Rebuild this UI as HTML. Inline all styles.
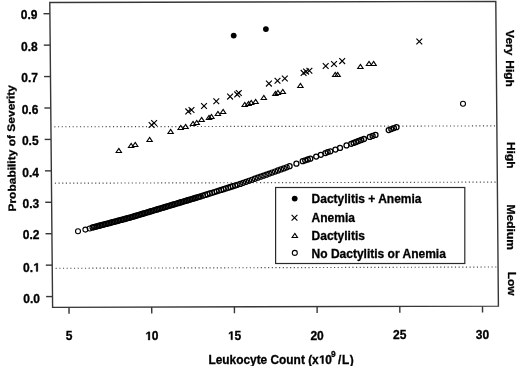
<!DOCTYPE html><html><head><meta charset="utf-8"><style>html,body{margin:0;padding:0;background:#fff;width:520px;height:366px;overflow:hidden}svg{display:block;will-change:transform}text{font-family:"Liberation Sans",sans-serif;font-weight:bold;fill:#000;stroke:#000;stroke-width:0.3px}</style></head><body>
<svg width="520" height="366" viewBox="0 0 520 366">
<rect width="520" height="366" fill="#fff"/>
<line x1="54.34" y1="126.80" x2="496.36" y2="125.90" stroke="#4a4a4a" stroke-width="1.15" stroke-dasharray="1.15 2.513"/>
<line x1="54.86" y1="183.20" x2="496.84" y2="182.10" stroke="#4a4a4a" stroke-width="1.15" stroke-dasharray="1.15 2.513"/>
<line x1="55.64" y1="268.30" x2="497.57" y2="267.00" stroke="#4a4a4a" stroke-width="1.15" stroke-dasharray="1.15 2.513"/>
<polygon points="49.8,2.5 495.8,1.4 498.4,306.1 52.6,307.4" fill="none" stroke="#363636" stroke-width="1.4"/>
<line x1="43.50" y1="13.70" x2="49.90" y2="13.70" stroke="#363636" stroke-width="1.4"/>
<line x1="43.79" y1="45.13" x2="50.19" y2="45.13" stroke="#363636" stroke-width="1.4"/>
<line x1="44.08" y1="76.56" x2="50.48" y2="76.56" stroke="#363636" stroke-width="1.4"/>
<line x1="44.37" y1="107.99" x2="50.77" y2="107.99" stroke="#363636" stroke-width="1.4"/>
<line x1="44.66" y1="139.42" x2="51.06" y2="139.42" stroke="#363636" stroke-width="1.4"/>
<line x1="44.95" y1="170.85" x2="51.35" y2="170.85" stroke="#363636" stroke-width="1.4"/>
<line x1="45.23" y1="202.28" x2="51.63" y2="202.28" stroke="#363636" stroke-width="1.4"/>
<line x1="45.52" y1="233.71" x2="51.92" y2="233.71" stroke="#363636" stroke-width="1.4"/>
<line x1="45.81" y1="265.14" x2="52.21" y2="265.14" stroke="#363636" stroke-width="1.4"/>
<line x1="46.10" y1="296.57" x2="52.50" y2="296.57" stroke="#363636" stroke-width="1.4"/>
<text x="37.50" y="19.10" font-size="12" text-anchor="end">0.9</text>
<text x="37.78" y="50.65" font-size="12" text-anchor="end">0.8</text>
<text x="38.06" y="82.20" font-size="12" text-anchor="end">0.7</text>
<text x="38.34" y="113.75" font-size="12" text-anchor="end">0.6</text>
<text x="38.62" y="145.30" font-size="12" text-anchor="end">0.5</text>
<text x="38.90" y="176.85" font-size="12" text-anchor="end">0.4</text>
<text x="39.18" y="208.40" font-size="12" text-anchor="end">0.3</text>
<text x="39.46" y="238.95" font-size="12" text-anchor="end">0.2</text>
<text x="39.74" y="271.50" font-size="12" text-anchor="end">0. </text>
<text x="40.02" y="303.05" font-size="12" text-anchor="end">0.0</text>
<line x1="69.00" y1="307.35" x2="69.05" y2="313.65" stroke="#363636" stroke-width="1.4"/>
<line x1="151.70" y1="307.11" x2="151.75" y2="313.41" stroke="#363636" stroke-width="1.4"/>
<line x1="234.40" y1="306.87" x2="234.45" y2="313.17" stroke="#363636" stroke-width="1.4"/>
<line x1="317.10" y1="306.63" x2="317.15" y2="312.93" stroke="#363636" stroke-width="1.4"/>
<line x1="399.80" y1="306.39" x2="399.85" y2="312.69" stroke="#363636" stroke-width="1.4"/>
<line x1="482.50" y1="306.15" x2="482.55" y2="312.45" stroke="#363636" stroke-width="1.4"/>
<text x="69.10" y="340.40" font-size="12" text-anchor="middle">5</text>
<text x="151.76" y="340.12" font-size="12" text-anchor="middle"> 0</text>
<text x="234.42" y="339.84" font-size="12" text-anchor="middle"> 5</text>
<text x="317.08" y="339.56" font-size="12" text-anchor="middle">20</text>
<text x="399.74" y="339.28" font-size="12" text-anchor="middle">25</text>
<text x="482.40" y="339.00" font-size="12" text-anchor="middle">30</text>
<text x="208.4" y="363.7" font-size="11.9">Leukocyte Count (x 0</text>
<text x="330.9" y="356.8" font-size="8.4">9</text>
<text x="338.1" y="363.7" font-size="11.9" letter-spacing="0.5">/L)</text>
<text transform="translate(16.0,211.6) rotate(-90.76) scale(1,0.9)" font-size="12">Probability of Severity</text>
<text transform="translate(506.2,30.1) rotate(90) scale(1,0.9)" font-size="12" word-spacing="1.5">Very High</text>
<text transform="translate(507.1,141.9) rotate(90) scale(1,0.9)" font-size="12">High</text>
<text transform="translate(507.3,204.6) rotate(90) scale(1,0.9)" font-size="12">Medium</text>
<text transform="translate(507.8,271.7) rotate(90) scale(1,0.9)" font-size="12">Low</text>
<rect x="275.6" y="187.5" width="189.2" height="76.0" fill="#fff" stroke="#2a2a2a" stroke-width="1.2"/>
<circle cx="294.70" cy="198.60" r="2.9" fill="#000"/>
<path d="M291.60 214.80L297.40 220.60M291.60 220.60L297.40 214.80" stroke="#000" stroke-width="1.15" fill="none"/>
<path d="M294.80 233.40L297.50 237.50L292.10 237.50Z" stroke="#000" stroke-width="1.1" fill="none" stroke-linejoin="miter"/>
<circle cx="294.80" cy="252.90" r="2.5" fill="none" stroke="#000" stroke-width="1.1"/>
<text x="311.6" y="203.0" font-size="12">Dactylitis + Anemia</text>
<text x="311.6" y="221.7" font-size="12">Anemia</text>
<text x="311.6" y="240.0" font-size="12">Dactylitis</text>
<text x="311.6" y="257.7" font-size="12">No Dactylitis or Anemia</text>
<circle cx="92.60" cy="227.51" r="2.55" fill="none" stroke="#000" stroke-width="1.2"/>
<circle cx="94.10" cy="227.11" r="2.55" fill="none" stroke="#000" stroke-width="1.2"/>
<circle cx="95.60" cy="226.71" r="2.55" fill="none" stroke="#000" stroke-width="1.2"/>
<circle cx="97.10" cy="226.31" r="2.55" fill="none" stroke="#000" stroke-width="1.2"/>
<circle cx="98.60" cy="225.92" r="2.55" fill="none" stroke="#000" stroke-width="1.2"/>
<circle cx="100.10" cy="225.52" r="2.55" fill="none" stroke="#000" stroke-width="1.2"/>
<circle cx="101.60" cy="225.12" r="2.55" fill="none" stroke="#000" stroke-width="1.2"/>
<circle cx="103.10" cy="224.73" r="2.55" fill="none" stroke="#000" stroke-width="1.2"/>
<circle cx="104.60" cy="224.33" r="2.55" fill="none" stroke="#000" stroke-width="1.2"/>
<circle cx="106.10" cy="223.93" r="2.55" fill="none" stroke="#000" stroke-width="1.2"/>
<circle cx="107.60" cy="223.54" r="2.55" fill="none" stroke="#000" stroke-width="1.2"/>
<circle cx="109.10" cy="223.14" r="2.55" fill="none" stroke="#000" stroke-width="1.2"/>
<circle cx="110.60" cy="222.74" r="2.55" fill="none" stroke="#000" stroke-width="1.2"/>
<circle cx="112.10" cy="222.34" r="2.55" fill="none" stroke="#000" stroke-width="1.2"/>
<circle cx="113.60" cy="221.95" r="2.55" fill="none" stroke="#000" stroke-width="1.2"/>
<circle cx="115.10" cy="221.55" r="2.55" fill="none" stroke="#000" stroke-width="1.2"/>
<circle cx="116.60" cy="221.15" r="2.55" fill="none" stroke="#000" stroke-width="1.2"/>
<circle cx="118.10" cy="220.75" r="2.55" fill="none" stroke="#000" stroke-width="1.2"/>
<circle cx="119.60" cy="220.36" r="2.55" fill="none" stroke="#000" stroke-width="1.2"/>
<circle cx="121.10" cy="219.96" r="2.55" fill="none" stroke="#000" stroke-width="1.2"/>
<circle cx="122.60" cy="219.56" r="2.55" fill="none" stroke="#000" stroke-width="1.2"/>
<circle cx="124.10" cy="219.16" r="2.55" fill="none" stroke="#000" stroke-width="1.2"/>
<circle cx="125.60" cy="218.77" r="2.55" fill="none" stroke="#000" stroke-width="1.2"/>
<circle cx="127.10" cy="218.37" r="2.55" fill="none" stroke="#000" stroke-width="1.2"/>
<circle cx="128.60" cy="217.97" r="2.55" fill="none" stroke="#000" stroke-width="1.2"/>
<circle cx="130.10" cy="217.57" r="2.55" fill="none" stroke="#000" stroke-width="1.2"/>
<circle cx="131.60" cy="217.12" r="2.55" fill="none" stroke="#000" stroke-width="1.2"/>
<circle cx="133.10" cy="216.67" r="2.55" fill="none" stroke="#000" stroke-width="1.2"/>
<circle cx="134.60" cy="216.22" r="2.55" fill="none" stroke="#000" stroke-width="1.2"/>
<circle cx="136.10" cy="215.77" r="2.55" fill="none" stroke="#000" stroke-width="1.2"/>
<circle cx="137.60" cy="215.32" r="2.55" fill="none" stroke="#000" stroke-width="1.2"/>
<circle cx="139.10" cy="214.87" r="2.55" fill="none" stroke="#000" stroke-width="1.2"/>
<circle cx="140.60" cy="214.42" r="2.55" fill="none" stroke="#000" stroke-width="1.2"/>
<circle cx="142.10" cy="213.97" r="2.55" fill="none" stroke="#000" stroke-width="1.2"/>
<circle cx="143.60" cy="213.52" r="2.55" fill="none" stroke="#000" stroke-width="1.2"/>
<circle cx="145.10" cy="213.07" r="2.55" fill="none" stroke="#000" stroke-width="1.2"/>
<circle cx="146.60" cy="212.62" r="2.55" fill="none" stroke="#000" stroke-width="1.2"/>
<circle cx="148.10" cy="212.17" r="2.55" fill="none" stroke="#000" stroke-width="1.2"/>
<circle cx="149.60" cy="211.72" r="2.55" fill="none" stroke="#000" stroke-width="1.2"/>
<circle cx="151.10" cy="211.27" r="2.55" fill="none" stroke="#000" stroke-width="1.2"/>
<circle cx="152.60" cy="210.82" r="2.55" fill="none" stroke="#000" stroke-width="1.2"/>
<circle cx="154.10" cy="210.37" r="2.55" fill="none" stroke="#000" stroke-width="1.2"/>
<circle cx="155.60" cy="209.92" r="2.55" fill="none" stroke="#000" stroke-width="1.2"/>
<circle cx="157.10" cy="209.47" r="2.55" fill="none" stroke="#000" stroke-width="1.2"/>
<circle cx="158.60" cy="209.02" r="2.55" fill="none" stroke="#000" stroke-width="1.2"/>
<circle cx="160.10" cy="208.57" r="2.55" fill="none" stroke="#000" stroke-width="1.2"/>
<circle cx="161.60" cy="208.12" r="2.55" fill="none" stroke="#000" stroke-width="1.2"/>
<circle cx="163.10" cy="207.67" r="2.55" fill="none" stroke="#000" stroke-width="1.2"/>
<circle cx="164.60" cy="207.22" r="2.55" fill="none" stroke="#000" stroke-width="1.2"/>
<circle cx="166.10" cy="206.77" r="2.55" fill="none" stroke="#000" stroke-width="1.2"/>
<circle cx="167.60" cy="206.32" r="2.55" fill="none" stroke="#000" stroke-width="1.2"/>
<circle cx="169.10" cy="205.87" r="2.55" fill="none" stroke="#000" stroke-width="1.2"/>
<circle cx="170.60" cy="205.42" r="2.55" fill="none" stroke="#000" stroke-width="1.2"/>
<circle cx="172.10" cy="204.97" r="2.55" fill="none" stroke="#000" stroke-width="1.2"/>
<circle cx="173.60" cy="204.52" r="2.55" fill="none" stroke="#000" stroke-width="1.2"/>
<circle cx="175.10" cy="204.07" r="2.55" fill="none" stroke="#000" stroke-width="1.2"/>
<circle cx="176.60" cy="203.62" r="2.55" fill="none" stroke="#000" stroke-width="1.2"/>
<circle cx="178.10" cy="203.17" r="2.55" fill="none" stroke="#000" stroke-width="1.2"/>
<circle cx="179.60" cy="202.72" r="2.55" fill="none" stroke="#000" stroke-width="1.2"/>
<circle cx="181.10" cy="202.27" r="2.55" fill="none" stroke="#000" stroke-width="1.2"/>
<circle cx="182.60" cy="201.82" r="2.55" fill="none" stroke="#000" stroke-width="1.2"/>
<circle cx="184.10" cy="201.37" r="2.55" fill="none" stroke="#000" stroke-width="1.2"/>
<circle cx="185.60" cy="200.92" r="2.55" fill="none" stroke="#000" stroke-width="1.2"/>
<circle cx="187.10" cy="200.47" r="2.55" fill="none" stroke="#000" stroke-width="1.2"/>
<circle cx="188.60" cy="200.02" r="2.55" fill="none" stroke="#000" stroke-width="1.2"/>
<circle cx="190.10" cy="199.57" r="2.55" fill="none" stroke="#000" stroke-width="1.2"/>
<circle cx="191.60" cy="199.12" r="2.55" fill="none" stroke="#000" stroke-width="1.2"/>
<circle cx="193.10" cy="198.67" r="2.55" fill="none" stroke="#000" stroke-width="1.2"/>
<circle cx="194.60" cy="198.22" r="2.55" fill="none" stroke="#000" stroke-width="1.2"/>
<circle cx="196.10" cy="197.77" r="2.55" fill="none" stroke="#000" stroke-width="1.2"/>
<circle cx="197.60" cy="197.32" r="2.55" fill="none" stroke="#000" stroke-width="1.2"/>
<circle cx="199.10" cy="196.87" r="2.55" fill="none" stroke="#000" stroke-width="1.2"/>
<circle cx="200.60" cy="196.41" r="2.55" fill="none" stroke="#000" stroke-width="1.2"/>
<circle cx="202.90" cy="195.69" r="2.55" fill="none" stroke="#000" stroke-width="1.2"/>
<circle cx="205.20" cy="194.96" r="2.55" fill="none" stroke="#000" stroke-width="1.2"/>
<circle cx="207.50" cy="194.24" r="2.55" fill="none" stroke="#000" stroke-width="1.2"/>
<circle cx="209.80" cy="193.51" r="2.55" fill="none" stroke="#000" stroke-width="1.2"/>
<circle cx="212.10" cy="192.79" r="2.55" fill="none" stroke="#000" stroke-width="1.2"/>
<circle cx="214.40" cy="192.06" r="2.55" fill="none" stroke="#000" stroke-width="1.2"/>
<circle cx="216.70" cy="191.34" r="2.55" fill="none" stroke="#000" stroke-width="1.2"/>
<circle cx="219.00" cy="190.61" r="2.55" fill="none" stroke="#000" stroke-width="1.2"/>
<circle cx="221.30" cy="189.89" r="2.55" fill="none" stroke="#000" stroke-width="1.2"/>
<circle cx="223.60" cy="189.17" r="2.55" fill="none" stroke="#000" stroke-width="1.2"/>
<circle cx="225.90" cy="188.44" r="2.55" fill="none" stroke="#000" stroke-width="1.2"/>
<circle cx="228.20" cy="187.72" r="2.55" fill="none" stroke="#000" stroke-width="1.2"/>
<circle cx="230.50" cy="186.99" r="2.55" fill="none" stroke="#000" stroke-width="1.2"/>
<circle cx="232.80" cy="186.27" r="2.55" fill="none" stroke="#000" stroke-width="1.2"/>
<circle cx="235.10" cy="185.54" r="2.55" fill="none" stroke="#000" stroke-width="1.2"/>
<circle cx="237.40" cy="184.82" r="2.55" fill="none" stroke="#000" stroke-width="1.2"/>
<circle cx="240.30" cy="183.89" r="2.55" fill="none" stroke="#000" stroke-width="1.2"/>
<circle cx="243.20" cy="182.86" r="2.55" fill="none" stroke="#000" stroke-width="1.2"/>
<circle cx="246.10" cy="181.83" r="2.55" fill="none" stroke="#000" stroke-width="1.2"/>
<circle cx="249.00" cy="180.80" r="2.55" fill="none" stroke="#000" stroke-width="1.2"/>
<circle cx="251.90" cy="179.78" r="2.55" fill="none" stroke="#000" stroke-width="1.2"/>
<circle cx="254.80" cy="178.75" r="2.55" fill="none" stroke="#000" stroke-width="1.2"/>
<circle cx="257.70" cy="177.72" r="2.55" fill="none" stroke="#000" stroke-width="1.2"/>
<circle cx="260.60" cy="176.69" r="2.55" fill="none" stroke="#000" stroke-width="1.2"/>
<circle cx="263.50" cy="175.66" r="2.55" fill="none" stroke="#000" stroke-width="1.2"/>
<circle cx="266.40" cy="174.63" r="2.55" fill="none" stroke="#000" stroke-width="1.2"/>
<circle cx="269.30" cy="173.60" r="2.55" fill="none" stroke="#000" stroke-width="1.2"/>
<circle cx="272.20" cy="172.57" r="2.55" fill="none" stroke="#000" stroke-width="1.2"/>
<circle cx="275.10" cy="171.54" r="2.55" fill="none" stroke="#000" stroke-width="1.2"/>
<circle cx="278.00" cy="170.51" r="2.55" fill="none" stroke="#000" stroke-width="1.2"/>
<circle cx="280.90" cy="169.46" r="2.55" fill="none" stroke="#000" stroke-width="1.2"/>
<circle cx="283.80" cy="168.38" r="2.55" fill="none" stroke="#000" stroke-width="1.2"/>
<circle cx="286.70" cy="167.29" r="2.55" fill="none" stroke="#000" stroke-width="1.2"/>
<circle cx="78.00" cy="231.30" r="2.5" fill="none" stroke="#000" stroke-width="1.1"/>
<circle cx="85.40" cy="229.60" r="2.5" fill="none" stroke="#000" stroke-width="1.1"/>
<circle cx="89.70" cy="228.50" r="2.5" fill="none" stroke="#000" stroke-width="1.1"/>
<circle cx="289.60" cy="166.20" r="2.5" fill="none" stroke="#000" stroke-width="1.3"/>
<circle cx="296.40" cy="163.70" r="2.5" fill="none" stroke="#000" stroke-width="1.3"/>
<circle cx="302.70" cy="161.20" r="2.5" fill="none" stroke="#000" stroke-width="1.3"/>
<circle cx="305.20" cy="160.30" r="2.5" fill="none" stroke="#000" stroke-width="1.3"/>
<circle cx="307.80" cy="159.50" r="2.5" fill="none" stroke="#000" stroke-width="1.3"/>
<circle cx="310.30" cy="158.70" r="2.5" fill="none" stroke="#000" stroke-width="1.3"/>
<circle cx="316.20" cy="156.60" r="2.5" fill="none" stroke="#000" stroke-width="1.3"/>
<circle cx="320.80" cy="154.80" r="2.5" fill="none" stroke="#000" stroke-width="1.3"/>
<circle cx="325.40" cy="153.10" r="2.5" fill="none" stroke="#000" stroke-width="1.3"/>
<circle cx="327.70" cy="152.10" r="2.5" fill="none" stroke="#000" stroke-width="1.3"/>
<circle cx="330.40" cy="151.30" r="2.5" fill="none" stroke="#000" stroke-width="1.3"/>
<circle cx="335.40" cy="149.60" r="2.5" fill="none" stroke="#000" stroke-width="1.3"/>
<circle cx="340.00" cy="147.90" r="2.5" fill="none" stroke="#000" stroke-width="1.3"/>
<circle cx="346.50" cy="145.40" r="2.5" fill="none" stroke="#000" stroke-width="1.3"/>
<circle cx="351.20" cy="143.80" r="2.5" fill="none" stroke="#000" stroke-width="1.3"/>
<circle cx="353.60" cy="142.90" r="2.5" fill="none" stroke="#000" stroke-width="1.3"/>
<circle cx="356.10" cy="142.00" r="2.5" fill="none" stroke="#000" stroke-width="1.3"/>
<circle cx="358.60" cy="141.00" r="2.5" fill="none" stroke="#000" stroke-width="1.3"/>
<circle cx="361.30" cy="140.00" r="2.5" fill="none" stroke="#000" stroke-width="1.3"/>
<circle cx="364.00" cy="139.00" r="2.5" fill="none" stroke="#000" stroke-width="1.3"/>
<circle cx="369.80" cy="136.90" r="2.5" fill="none" stroke="#000" stroke-width="1.3"/>
<circle cx="372.60" cy="135.90" r="2.5" fill="none" stroke="#000" stroke-width="1.3"/>
<circle cx="375.50" cy="134.90" r="2.5" fill="none" stroke="#000" stroke-width="1.3"/>
<circle cx="388.70" cy="130.10" r="2.5" fill="none" stroke="#000" stroke-width="1.3"/>
<circle cx="391.30" cy="129.10" r="2.5" fill="none" stroke="#000" stroke-width="1.3"/>
<circle cx="393.90" cy="128.10" r="2.5" fill="none" stroke="#000" stroke-width="1.3"/>
<circle cx="396.50" cy="127.20" r="2.5" fill="none" stroke="#000" stroke-width="1.3"/>
<circle cx="463.00" cy="103.80" r="2.5" fill="none" stroke="#000" stroke-width="1.1"/>
<path d="M118.80 148.40L121.50 152.50L116.10 152.50Z" stroke="#000" stroke-width="1.1" fill="none" stroke-linejoin="miter"/>
<path d="M131.10 143.40L133.80 147.50L128.40 147.50Z" stroke="#000" stroke-width="1.1" fill="none" stroke-linejoin="miter"/>
<path d="M135.20 142.40L137.90 146.50L132.50 146.50Z" stroke="#000" stroke-width="1.1" fill="none" stroke-linejoin="miter"/>
<path d="M149.60 137.40L152.30 141.50L146.90 141.50Z" stroke="#000" stroke-width="1.1" fill="none" stroke-linejoin="miter"/>
<path d="M170.60 129.40L173.30 133.50L167.90 133.50Z" stroke="#000" stroke-width="1.1" fill="none" stroke-linejoin="miter"/>
<path d="M180.70 125.40L183.40 129.50L178.00 129.50Z" stroke="#000" stroke-width="1.1" fill="none" stroke-linejoin="miter"/>
<path d="M185.60 124.40L188.30 128.50L182.90 128.50Z" stroke="#000" stroke-width="1.1" fill="none" stroke-linejoin="miter"/>
<path d="M193.00 121.40L195.70 125.50L190.30 125.50Z" stroke="#000" stroke-width="1.1" fill="none" stroke-linejoin="miter"/>
<path d="M196.70 120.40L199.40 124.50L194.00 124.50Z" stroke="#000" stroke-width="1.1" fill="none" stroke-linejoin="miter"/>
<path d="M201.60 117.40L204.30 121.50L198.90 121.50Z" stroke="#000" stroke-width="1.1" fill="none" stroke-linejoin="miter"/>
<path d="M209.00 115.40L211.70 119.50L206.30 119.50Z" stroke="#000" stroke-width="1.1" fill="none" stroke-linejoin="miter"/>
<path d="M211.40 114.40L214.10 118.50L208.70 118.50Z" stroke="#000" stroke-width="1.1" fill="none" stroke-linejoin="miter"/>
<path d="M217.90 111.40L220.60 115.50L215.20 115.50Z" stroke="#000" stroke-width="1.1" fill="none" stroke-linejoin="miter"/>
<path d="M223.10 109.40L225.80 113.50L220.40 113.50Z" stroke="#000" stroke-width="1.1" fill="none" stroke-linejoin="miter"/>
<path d="M244.70 102.40L247.40 106.50L242.00 106.50Z" stroke="#000" stroke-width="1.1" fill="none" stroke-linejoin="miter"/>
<path d="M248.50 101.40L251.20 105.50L245.80 105.50Z" stroke="#000" stroke-width="1.1" fill="none" stroke-linejoin="miter"/>
<path d="M251.20 100.40L253.90 104.50L248.50 104.50Z" stroke="#000" stroke-width="1.1" fill="none" stroke-linejoin="miter"/>
<path d="M255.60 99.40L258.30 103.50L252.90 103.50Z" stroke="#000" stroke-width="1.1" fill="none" stroke-linejoin="miter"/>
<path d="M263.80 95.40L266.50 99.50L261.10 99.50Z" stroke="#000" stroke-width="1.1" fill="none" stroke-linejoin="miter"/>
<path d="M275.40 91.40L278.10 95.50L272.70 95.50Z" stroke="#000" stroke-width="1.1" fill="none" stroke-linejoin="miter"/>
<path d="M277.90 90.40L280.60 94.50L275.20 94.50Z" stroke="#000" stroke-width="1.1" fill="none" stroke-linejoin="miter"/>
<path d="M282.80 89.40L285.50 93.50L280.10 93.50Z" stroke="#000" stroke-width="1.1" fill="none" stroke-linejoin="miter"/>
<path d="M300.40 83.40L303.10 87.50L297.70 87.50Z" stroke="#000" stroke-width="1.1" fill="none" stroke-linejoin="miter"/>
<path d="M335.20 72.40L337.90 76.50L332.50 76.50Z" stroke="#000" stroke-width="1.1" fill="none" stroke-linejoin="miter"/>
<path d="M337.60 72.40L340.30 76.50L334.90 76.50Z" stroke="#000" stroke-width="1.1" fill="none" stroke-linejoin="miter"/>
<path d="M360.40 64.40L363.10 68.50L357.70 68.50Z" stroke="#000" stroke-width="1.1" fill="none" stroke-linejoin="miter"/>
<path d="M369.00 61.40L371.70 65.50L366.30 65.50Z" stroke="#000" stroke-width="1.1" fill="none" stroke-linejoin="miter"/>
<path d="M373.60 61.40L376.30 65.50L370.90 65.50Z" stroke="#000" stroke-width="1.1" fill="none" stroke-linejoin="miter"/>
<path d="M148.70 122.10L154.50 127.90M148.70 127.90L154.50 122.10" stroke="#000" stroke-width="1.15" fill="none"/>
<path d="M151.20 120.10L157.00 125.90M151.20 125.90L157.00 120.10" stroke="#000" stroke-width="1.15" fill="none"/>
<path d="M185.40 108.50L191.20 114.30M185.40 114.30L191.20 108.50" stroke="#000" stroke-width="1.15" fill="none"/>
<path d="M188.60 107.10L194.40 112.90M188.60 112.90L194.40 107.10" stroke="#000" stroke-width="1.15" fill="none"/>
<path d="M201.10 103.10L206.90 108.90M201.10 108.90L206.90 103.10" stroke="#000" stroke-width="1.15" fill="none"/>
<path d="M213.40 98.40L219.20 104.20M213.40 104.20L219.20 98.40" stroke="#000" stroke-width="1.15" fill="none"/>
<path d="M227.20 93.70L233.00 99.50M227.20 99.50L233.00 93.70" stroke="#000" stroke-width="1.15" fill="none"/>
<path d="M234.30 91.50L240.10 97.30M234.30 97.30L240.10 91.50" stroke="#000" stroke-width="1.15" fill="none"/>
<path d="M235.90 90.10L241.70 95.90M235.90 95.90L241.70 90.10" stroke="#000" stroke-width="1.15" fill="none"/>
<path d="M266.00 80.70L271.80 86.50M266.00 86.50L271.80 80.70" stroke="#000" stroke-width="1.15" fill="none"/>
<path d="M274.60 77.90L280.40 83.70M274.60 83.70L280.40 77.90" stroke="#000" stroke-width="1.15" fill="none"/>
<path d="M281.90 75.60L287.70 81.40M281.90 81.40L287.70 75.60" stroke="#000" stroke-width="1.15" fill="none"/>
<path d="M300.70 70.00L306.50 75.80M300.70 75.80L306.50 70.00" stroke="#000" stroke-width="1.15" fill="none"/>
<path d="M303.20 68.70L309.00 74.50M303.20 74.50L309.00 68.70" stroke="#000" stroke-width="1.15" fill="none"/>
<path d="M306.50 67.90L312.30 73.70M306.50 73.70L312.30 67.90" stroke="#000" stroke-width="1.15" fill="none"/>
<path d="M322.80 63.10L328.60 68.90M322.80 68.90L328.60 63.10" stroke="#000" stroke-width="1.15" fill="none"/>
<path d="M331.10 61.10L336.90 66.90M331.10 66.90L336.90 61.10" stroke="#000" stroke-width="1.15" fill="none"/>
<path d="M339.30 58.20L345.10 64.00M339.30 64.00L345.10 58.20" stroke="#000" stroke-width="1.15" fill="none"/>
<path d="M416.40 38.60L422.20 44.40M416.40 44.40L422.20 38.60" stroke="#000" stroke-width="1.15" fill="none"/>
<circle cx="233.70" cy="35.60" r="2.9" fill="#000"/>
<circle cx="265.90" cy="29.10" r="2.9" fill="#000"/>
<path d="M538 0V1170L200 959V1180L553 1409H819V0Z" transform="translate(33.05,271.50) scale(0.005859,-0.005859)" fill="#000" stroke="#000" stroke-width="51.2"/>
<path d="M538 0V1170L200 959V1180L553 1409H819V0Z" transform="translate(145.08,340.12) scale(0.005859,-0.005859)" fill="#000" stroke="#000" stroke-width="51.2"/>
<path d="M538 0V1170L200 959V1180L553 1409H819V0Z" transform="translate(227.74,339.84) scale(0.005859,-0.005859)" fill="#000" stroke="#000" stroke-width="51.2"/>
<path d="M538 0V1170L200 959V1180L553 1409H819V0Z" transform="translate(318.73,363.70) scale(0.005811,-0.005811)" fill="#000" stroke="#000" stroke-width="51.6"/>
</svg></body></html>
